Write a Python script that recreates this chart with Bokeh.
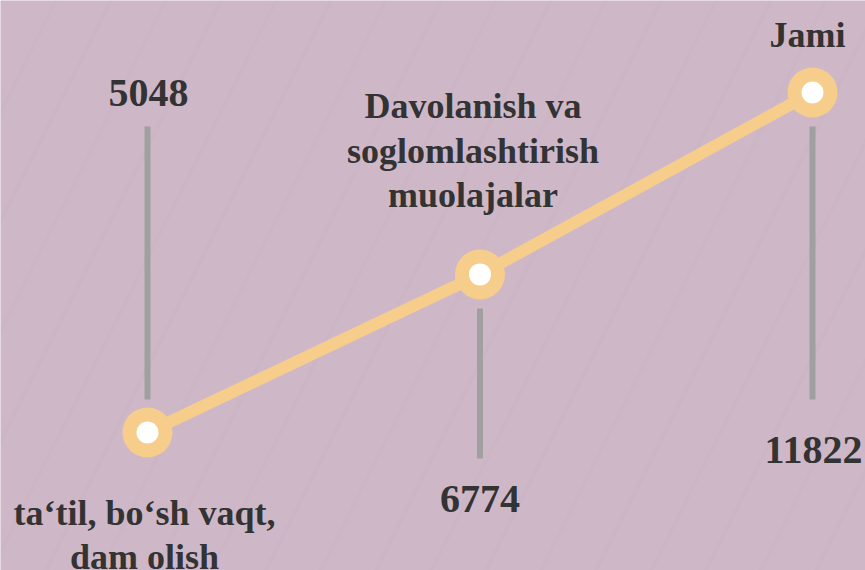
from bokeh.plotting import figure
from bokeh.models import Range1d
from bokeh.core.properties import value
from bokeh.embed import file_html
from bokeh.resources import INLINE

# ---- data ----
categories = ["ta‘til, bo‘sh vaqt,\ndam olish",
              "Davolanish va\nsoglomlashtirish\nmuolajalar",
              "Jami"]
values = [5048, 6774, 11822]
value_labels = ["5048", "6774", "11822"]
# relative display height of each marker
marker_level = [0.0, 0.465, 1.0]

# ---- layout constants (pixels) ----
W, H = 865, 570
PX_X = 332.5          # pixels per category step
PX_Y = 340.0          # pixels per level unit
X0_PX, Y0_PX = 147, 432
xs = list(range(len(categories)))

YELLOW = "#f6cd8a"
TEXT = "#333333"
FONT = "Liberation Serif"
TEXT_SHIFT = -13      # baseline correction for the svg renderer

p = figure(width=W, height=H, output_backend="svg", toolbar_location=None,
           x_range=Range1d(-X0_PX / PX_X, (W - X0_PX) / PX_X),
           y_range=Range1d(-(H - Y0_PX) / PX_Y, Y0_PX / PX_Y),
           min_border=0)
p.axis.visible = False
p.grid.visible = False
p.outline_line_color = None
p.background_fill_color = "#ccb5c5"
p.border_fill_color = "#ccb5c5"

# subtle diagonal stripes
p.quad(left=[-1], right=[3], bottom=[-1], top=[2], fill_alpha=0, line_alpha=0,
       hatch_pattern="/", hatch_color="white", hatch_alpha=0.045,
       hatch_scale=110, hatch_weight=45)

def dx(px):
    return px / PX_X

def dy(px):  # px downward on screen -> data offset
    return -px / PX_Y

# stems
stem_gap = [33, 34, 34]
stem_len = [273, 150, 273]
stem_dir = [-1, 1, 1]   # -1 up on screen, +1 down
y0s, y1s = [], []
for lv, g, l, d in zip(marker_level, stem_gap, stem_len, stem_dir):
    y0s.append(lv + dy(d * g))
    y1s.append(lv + dy(d * (g + l)))
p.segment(x0=xs, y0=y0s, x1=xs, y1=y1s, line_color="#a0a0a0",
          line_width=6, line_cap="butt")

# connecting line and markers
p.line(xs, marker_level, line_color=YELLOW, line_width=12)
p.scatter(xs, marker_level, size=50, fill_color=YELLOW, line_color=None)
p.scatter(xs, marker_level, size=22, fill_color="white", line_color=None)

# value labels
val_dy = [-327, 238, 370]
val_dx = [1, 0, 1]
p.text(x=[x + dx(o) for x, o in zip(xs, val_dx)],
       y=[lv + dy(o + TEXT_SHIFT) for lv, o in zip(marker_level, val_dy)],
       text=value_labels, text_font=value(FONT), text_font_style="bold",
       text_font_size="40px", text_color=TEXT, text_align="center",
       text_baseline="alphabetic")

# category labels (one text per line)
cat_first_dy = [93, -155, -45]   # baseline of first line, px from marker
cat_dx = [-3, -7, -5]
LINE_H = 44.5
cx, cy, ct = [], [], []
for x, lv, c, fy, ox in zip(xs, marker_level, categories, cat_first_dy, cat_dx):
    for i, line in enumerate(c.split("\n")):
        cx.append(x + dx(ox))
        cy.append(lv + dy(fy + i * LINE_H + TEXT_SHIFT))
        ct.append(line)
p.text(x=cx, y=cy, text=ct, text_font=value(FONT), text_font_style="bold",
       text_font_size="36px", text_color=TEXT, text_align="center",
       text_baseline="alphabetic")

open("out.html", "w").write(file_html(p, INLINE))
